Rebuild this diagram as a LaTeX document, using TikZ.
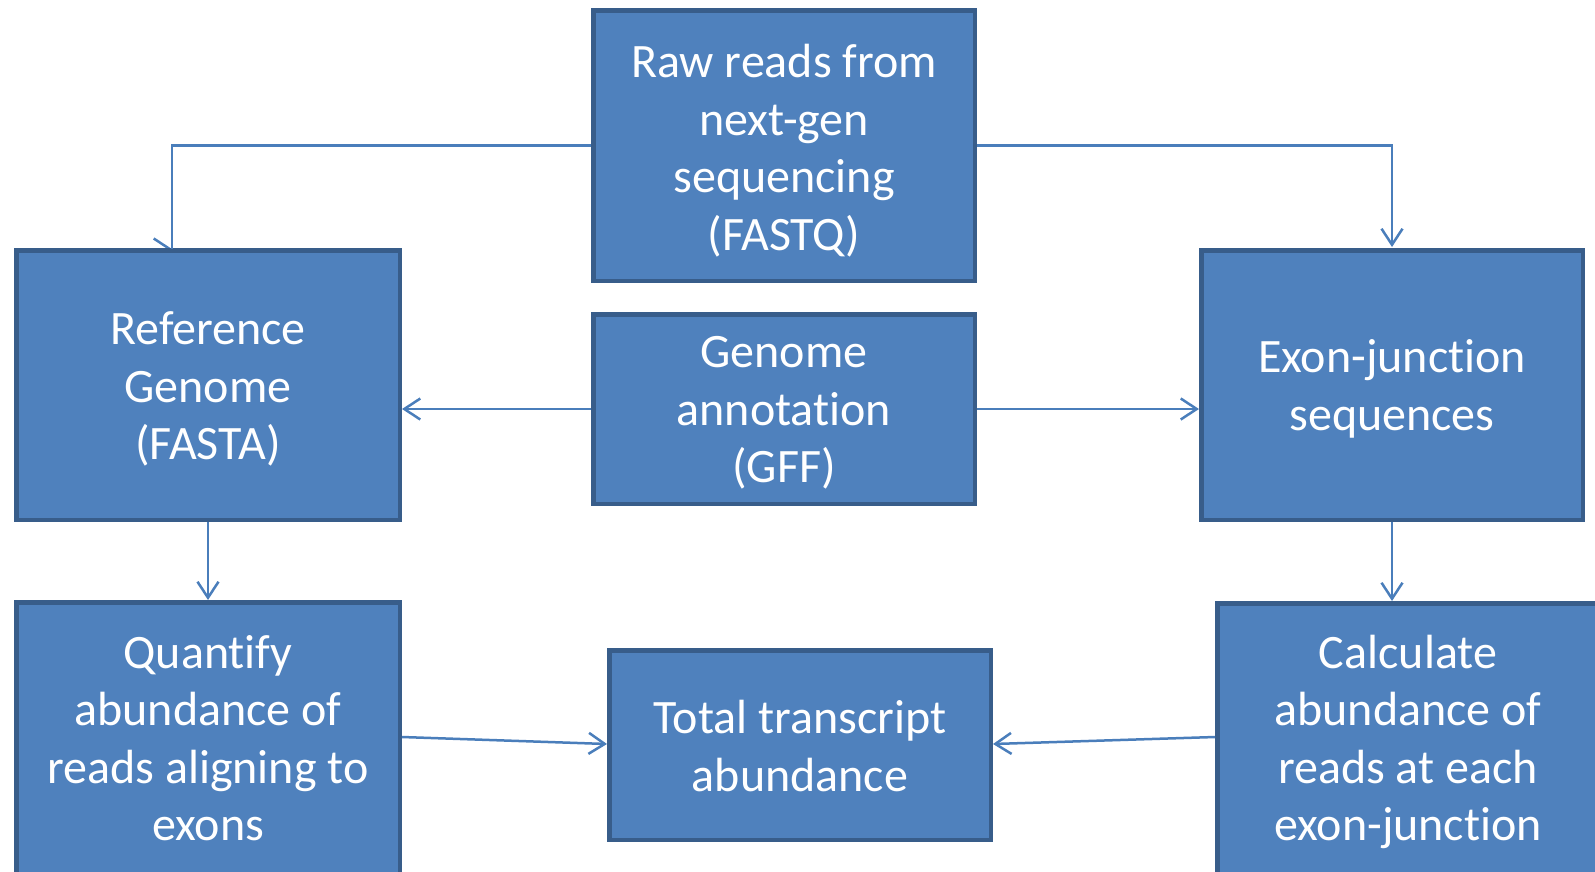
\documentclass[tikz,border=0pt]{standalone}
\usepackage{fontspec}
\setmainfont{Carlito}[Ligatures=NoCommon]
\usetikzlibrary{arrows.meta}
\definecolor{boxfill}{HTML}{4F81BD}
\definecolor{boxline}{HTML}{385D8A}
\definecolor{conncol}{HTML}{4A7EBB}
\tikzset{
  box/.style={draw=boxline, fill=boxfill, line width=4.5pt, inner sep=0pt},
  txt/.style={text=white, align=center, font=\fontsize{48}{57.5}\selectfont, inner sep=0pt},
  conn/.style={draw=conncol, line width=2.5pt},
  arr/.style={conn, -{Straight Barb[length=16pt, width=21pt, line width=2.5pt]}}
}
\begin{document}
\begin{tikzpicture}[x=1pt, y=-1pt]
\clip (0,0) rectangle (1595,871);
\useasboundingbox (0,0) rectangle (1595,871);
\fill[white] (0,0) rectangle (1595,871);
% odd arrow head at top-left connector, drawn beneath boxes
\coordinate (lt) at (172,249);
\coordinate (rt) at (1392,247);
\draw[arr] ([xshift=-2pt]lt) -- (lt);
\node[box, minimum width=381.5pt, minimum height=270.5pt] (raw) at (784,145.5) {};
\node[box, minimum width=383.5pt, minimum height=269.5pt] (ref) at (208,385) {};
\node[box, minimum width=381.5pt, minimum height=189.5pt] (ann) at (784,409) {};
\node[box, minimum width=381.5pt, minimum height=269.5pt] (exon) at (1392,385) {};
\node[box, minimum width=383.5pt, minimum height=273.5pt] (quant) at (208,739) {};
\node[box, minimum width=381.5pt, minimum height=189.5pt] (total) at (800,745) {};
\node[box, minimum width=381.5pt, minimum height=273.5pt] (calc) at (1408,740) {};
% texts
\node[txt] (rawt) at ([yshift=-5pt]raw.center) {Raw reads from\\next-gen\\sequencing\\(FASTQ)};
\node[txt] (reft) at ([yshift=-4pt]ref.center) {Reference\\Genome\\(FASTA)};
\node[txt] (annt) at ([yshift=-4pt]ann.center) {Genome\\annotation\\(GFF)};
\node[txt] (exont) at ([yshift=-4pt]exon.center) {Exon-junction\\sequences};
\node[txt] (quantt) at ([yshift=1pt]quant.center) {Quantify\\abundance of\\reads aligning to\\exons};
\node[txt] (totalt) at ([yshift=-1pt]total.center) {Total transcript\\abundance};
\node[txt] (calct) at ([yshift=-2pt]calc.center) {Calculate\\abundance of\\reads at each\\exon-junction};
% connectors
\draw[conn] (raw.west) -| (lt);
\draw[arr] (raw.east) -| (rt);
\draw[arr] (ann.west) -- (ref.east |- ann.west);
\draw[arr] (ann.east) -- (exon.west |- ann.east);
\draw[arr] (ref.south) -- (quant.north);
\draw[arr] (exon.south) -- (exon.south |- calc.north);
\draw[arr] (quant.east |- 0,737) -- (total.west |- 0,744);
\draw[arr] (calc.west |- 0,737) -- (total.east |- 0,744);
\end{tikzpicture}
\end{document}
